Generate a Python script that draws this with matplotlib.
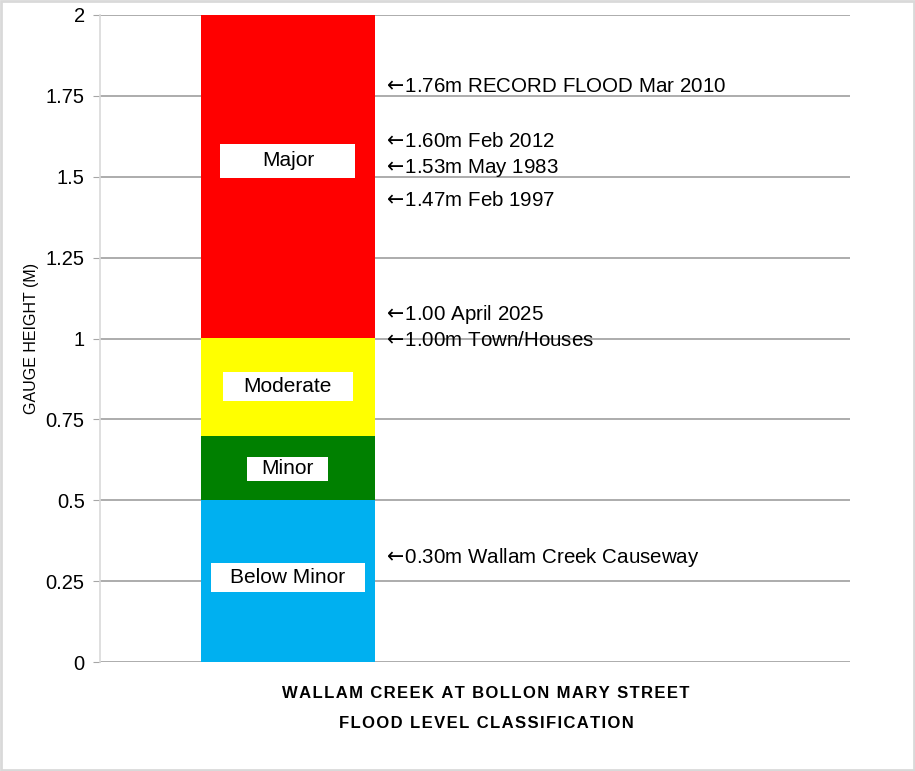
import matplotlib.pyplot as plt
from matplotlib.patches import Rectangle

# flood classes (stacked segments, metres)
classes = ["Below Minor", "Minor", "Moderate", "Major"]
bottoms = [0.0, 0.5, 0.7, 1.0]
heights = [0.5, 0.2, 0.3, 1.0]
colours = ["#00b0f0", "#008000", "#ffff00", "#ff0000"]
# where the white class labels sit, and their box size in pixels
label_y = [0.26, 0.597, 0.853, 1.55]
box_w = [154, 81, 130, 135]
box_h = [29, 24, 29, 34]

# notes on the right of the bar
notes = ["1.76m RECORD FLOOD Mar 2010", "1.60m Feb 2012", "1.53m May 1983",
         "1.47m Feb 1997", "1.00 April 2025", "1.00m Town/Houses",
         "0.30m Wallam Creek Causeway"]
note_y = [1.78, 1.61, 1.527, 1.428, 1.073, 0.995, 0.322]

yticks = [0, 0.25, 0.5, 0.75, 1, 1.25, 1.5, 1.75, 2]
ytick_labels = ["0", "0.25", "0.5", "0.75", "1", "1.25", "1.5", "1.75", "2"]

plt.rcParams['font.family'] = ['Liberation Sans', 'DejaVu Sans']

fig = plt.figure(figsize=(9.15, 7.71), dpi=100)
ax = fig.add_axes([100/915, 1-662/771, 750/915, 647/771])
xlo, xhi = -0.648, 1.938

ax.bar([0]*4, heights, bottom=bottoms, width=0.6, color=colours, zorder=3)

# pixels -> data units
px_x = (xhi - xlo) / 750
px_y = 2 / 647
for name, y, w, h in zip(classes, label_y, box_w, box_h):
    ax.add_patch(Rectangle((-w*px_x/2, y - h*px_y/2), w*px_x, h*px_y,
                           fc='white', ec='none', zorder=4))
    ax.text(0, y, name, ha='center', va='center', fontsize=15, zorder=5)

for txt, y in zip(notes, note_y):
    ax.annotate("$\\leftarrow\\!$" + txt, xy=(0.3, y), xytext=(6, 0),
                textcoords='offset points', ha='left', va='center',
                fontsize=14.8, zorder=4)

ax.set_xlim(xlo, xhi)
ax.set_ylim(0, 2)
ax.set_yticks(yticks)
ax.set_yticklabels(ytick_labels, fontsize=14.5)
ax.set_xticks([])
ax.grid(axis='y', color='#a6a6a6', linewidth=1.3, zorder=0)
ax.tick_params(axis='y', length=5, color='#a6a6a6', pad=6)
for s in ['top', 'right', 'bottom']:
    ax.spines[s].set_visible(False)
ax.spines['left'].set_color('#d9d9d9')
ax.spines['left'].set_linewidth(1.2)

ax.set_ylabel("GAUGE HEIGHT (M)", fontsize=11.5, va='center')
ax.yaxis.set_label_coords(-68/750, 0.5)

sp = "\u200a"
line1 = sp.join("WALLAM CREEK AT BOLLON MARY STREET")
line2 = sp.join("FLOOD LEVEL CLASSIFICATION")
fig.text(486/915, 1-693/771, line1, ha='center', va='center',
         fontsize=12, fontweight='bold')
fig.text(486/915, 1-723/771, line2, ha='center', va='center',
         fontsize=12, fontweight='bold')

fig.patches.append(Rectangle((0.001, 0.001), 0.998, 0.998,
                             transform=fig.transFigure, fill=False,
                             edgecolor='#d9d9d9', linewidth=2))

fig.savefig("out.png", dpi=100)
